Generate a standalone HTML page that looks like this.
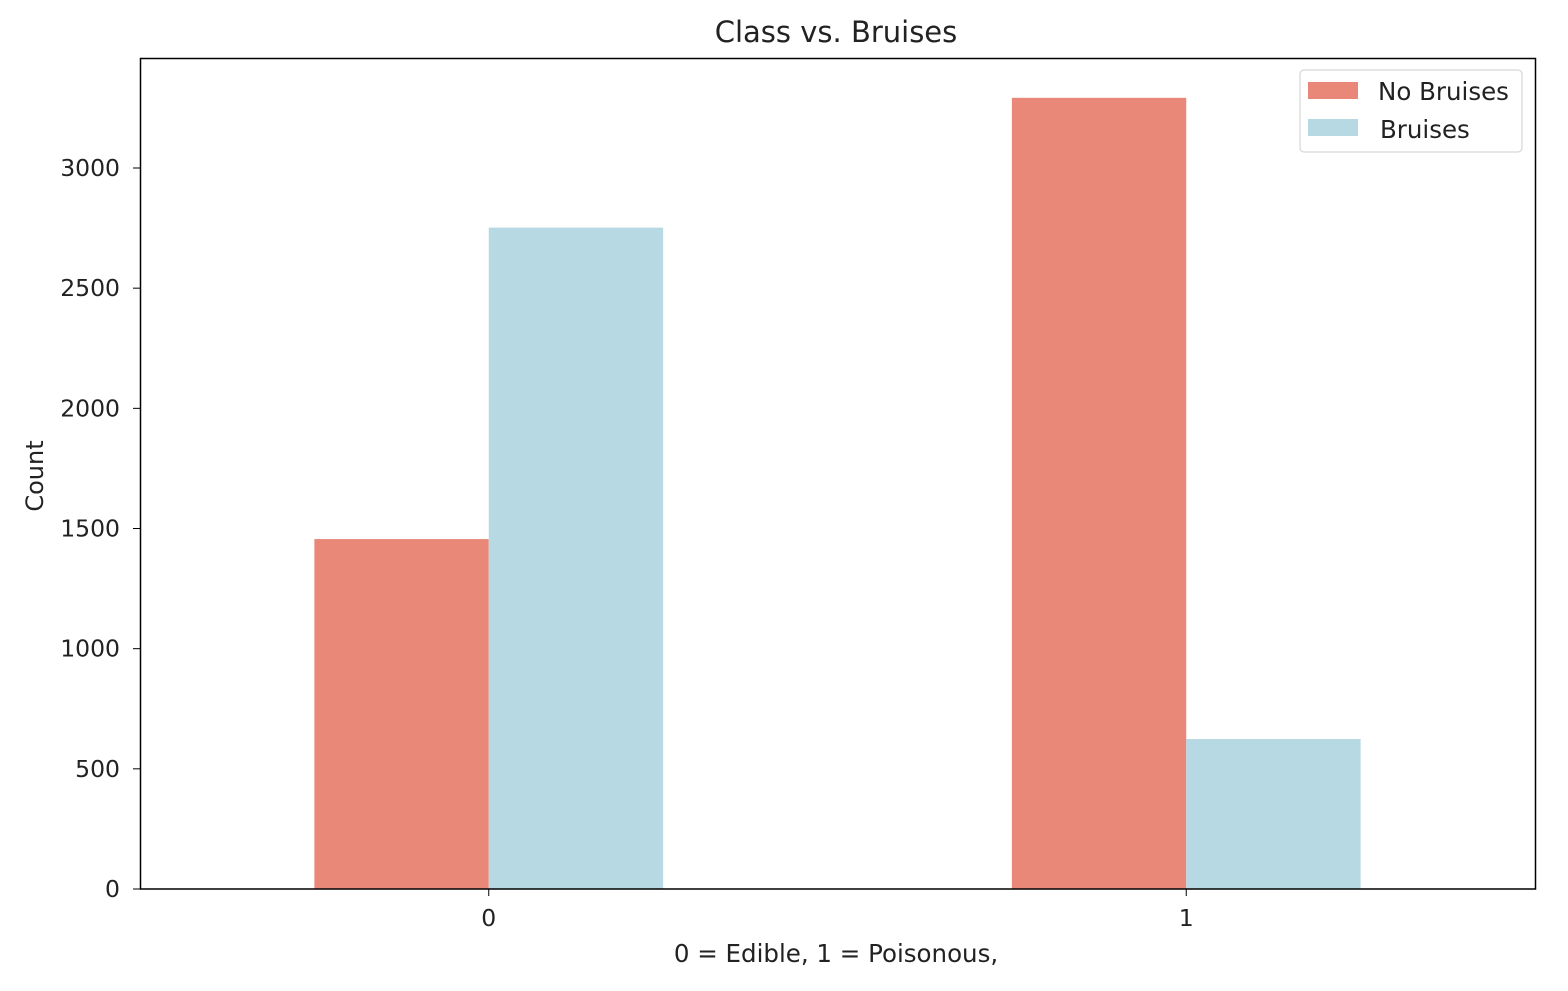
<!DOCTYPE html>
<html><head><meta charset="utf-8"><style>
body{margin:0;background:#fff;}
svg text{font-family:"DejaVu Sans","Liberation Sans",sans-serif;fill:#222;}
</style></head><body>
<svg id="chart" width="1568" height="986">
<text x="836" y="42" font-size="29" text-anchor="middle">Class vs. Bruises</text>
<g id="bars"></g>
<g id="yaxis"></g>
<g id="xaxis"></g>
<rect x="140.5" y="58.5" width="1395" height="830.5" fill="none" stroke="#000" stroke-width="1.5"/>
<text transform="translate(43,476) rotate(-90)" font-size="24" text-anchor="middle">Count</text>
<text x="836" y="962" font-size="24.5" text-anchor="middle">0 = Edible, 1 = Poisonous,</text>
<g>
<rect x="1300" y="70" width="222" height="82" rx="4" fill="#fff" stroke="#ccc"/>
<rect x="1308" y="82" width="50" height="17" fill="#e98878"/>
<text x="1378" y="100" font-size="24.5">No Bruises</text>
<rect x="1308" y="119" width="50" height="17" fill="#b6d9e4"/>
<text x="1380" y="138" font-size="24.5">Bruises</text>
</g>
</svg>
<script>
const categories = ["0", "1"];
const noBruises = [1456, 3292];
const bruises = [2752, 624];
const yTicks = [0, 500, 1000, 1500, 2000, 2500, 3000];
const NS = "http://www.w3.org/2000/svg";
const x0 = 140, x1 = 1535, yBase = 889, yTop = 168;
function xs(v){ return x0 + (v + 0.5) / 2 * (x1 - x0); }
function ys(v){ return yBase - v / 3000 * (yBase - yTop); }
const bars = document.getElementById('bars');
const bw = 0.25;
function bar(i, v, off, color, name){
  const r = document.createElementNS(NS, 'rect');
  const xa = xs(i + off), xb = xs(i + off + bw);
  r.setAttribute('x', xa); r.setAttribute('width', xb - xa);
  r.setAttribute('y', ys(v)); r.setAttribute('height', yBase - ys(v));
  r.setAttribute('fill', color);
  
  
  bars.appendChild(r);
}
categories.forEach((c, i) => {
  bar(i, noBruises[i], -bw, '#e98878', 'bar-no-bruises-' + c);
  bar(i, bruises[i], 0, '#b6d9e4', 'bar-bruises-' + c);
});
const ya = document.getElementById('yaxis');
yTicks.forEach(t => {
  const y = ys(t);
  const l = document.createElementNS(NS, 'line');
  l.setAttribute('x1', 133); l.setAttribute('x2', 140); l.setAttribute('y1', y); l.setAttribute('y2', y);
  l.setAttribute('stroke', '#000');
  
  
  ya.appendChild(l);
  const tx = document.createElementNS(NS, 'text');
  tx.setAttribute('x', 120); tx.setAttribute('y', y + 8); tx.setAttribute('font-size', '23.5'); tx.setAttribute('text-anchor', 'end');
  tx.textContent = t;
  
  
  ya.appendChild(tx);
});
const xa = document.getElementById('xaxis');
categories.forEach((c, i) => {
  const x = xs(i);
  const l = document.createElementNS(NS, 'line');
  l.setAttribute('x1', x); l.setAttribute('x2', x); l.setAttribute('y1', 889); l.setAttribute('y2', 896);
  l.setAttribute('stroke', '#000');
  
  
  xa.appendChild(l);
  const tx = document.createElementNS(NS, 'text');
  tx.setAttribute('x', x); tx.setAttribute('y', 926); tx.setAttribute('font-size', '23.5'); tx.setAttribute('text-anchor', 'middle');
  tx.textContent = c;
  
  
  xa.appendChild(tx);
});
</script>
</body></html>
